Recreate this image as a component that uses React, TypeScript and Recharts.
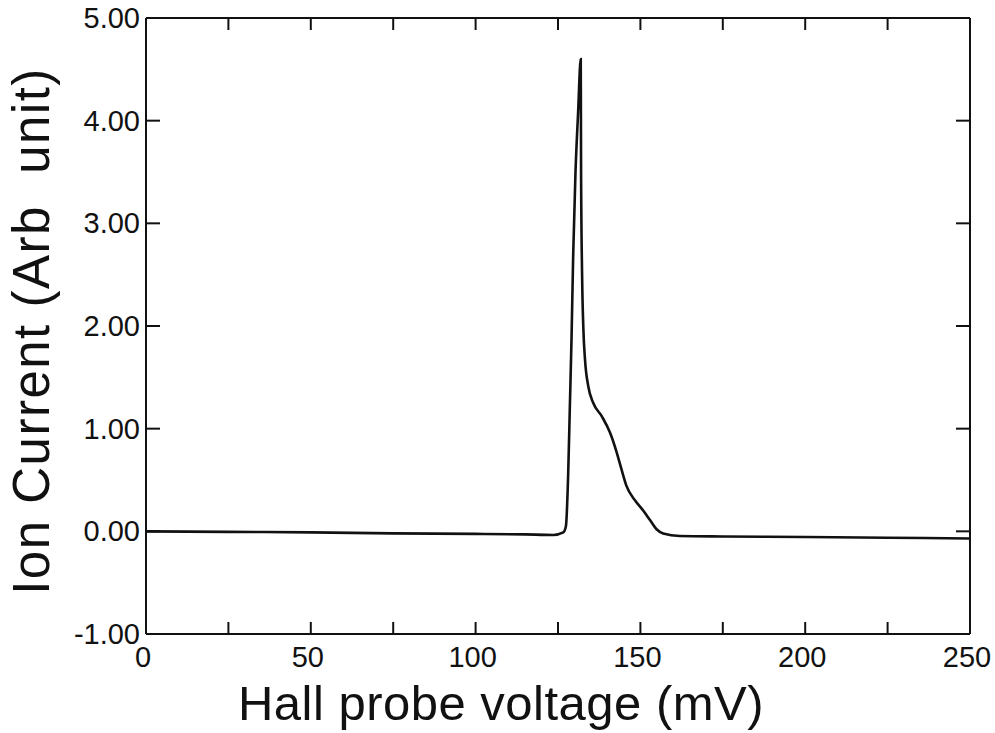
import * as React from 'react';
import {LineChart, Line, XAxis, YAxis, ReferenceLine} from 'recharts';

// Hall probe voltage (mV)
const voltage = [
    0, 25, 50, 75, 100, 115, 123.6, 126.6, 127.4, 128.1, 128.6, 129.1, 129.6, 130.3, 131.1, 131.9,
    132.0, 132.3, 132.7, 133.2, 134.2, 135.7, 138.3, 140.8, 142.8, 144.3, 145.8, 148.4, 150.9,
    152.9, 154.9, 156.9, 162, 175, 200, 225, 250
];

// Ion current (arb unit)
const current = [
    0.0, -0.005, -0.01, -0.02, -0.025, -0.03, -0.035, -0.01, 0.05, 0.57, 1.22, 1.87, 2.68, 3.49, 4.08, 4.6,
    3.49, 2.52, 1.97, 1.67, 1.41, 1.25, 1.12, 0.96, 0.77, 0.6, 0.44, 0.3, 0.2,
    0.11, 0.02, -0.02, -0.045, -0.05, -0.055, -0.062, -0.07
];

const xTicks = [0, 25, 50, 75, 100, 125, 150, 175, 200, 225, 250];
const xLabelled = [0, 50, 100, 150, 200, 250];
const yTicks = [-1, 0, 1, 2, 3, 4, 5];
const rightTicks = [0, 1, 2, 3, 4];

const data = voltage.map((v, i) => ({v, i: current[i]}));

const FONT = '"Liberation Sans", Arial, Helvetica, sans-serif';
const INK = '#111';

// plot box size, used for the mirrored ticks on top and right
const PLOT_W = 824;
const PLOT_H = 616;

const BottomTick = (props : any) => {
    const {x, y, payload} = props;
    const show = xLabelled.indexOf(payload.value) >= 0;
    const inner = payload.value > 0 && payload.value < 250;
    return (
        <g>
            <line x1={x} x2={x} y1={y} y2={y - 12} stroke={INK} strokeWidth={2}/>
            {inner && <line x1={x} x2={x} y1={y - PLOT_H} y2={y - PLOT_H + 12} stroke={INK} strokeWidth={2}/>}
            {show && (
                <text x={x - 3} y={y + 33} textAnchor="middle" fontSize={29} fontFamily={FONT} fill={INK}>
                    {payload.value}
                </text>
            )}
        </g>
    );
};

const LeftTick = (props : any) => {
    const {x, y, payload} = props;
    const right = rightTicks.indexOf(payload.value) >= 0;
    return (
        <g>
            <line x1={x} x2={x + 14} y1={y} y2={y} stroke={INK} strokeWidth={2}/>
            {right && <line x1={x + PLOT_W} x2={x + PLOT_W - 14} y1={y} y2={y} stroke={INK} strokeWidth={2}/>}
            <text x={x - 6} y={y + 10} textAnchor="end" fontSize={29} fontFamily={FONT} fill={INK}>
                {payload.value.toFixed(2)}
            </text>
        </g>
    );
};

const xTitle = () => (
    <text x={501} y={720} textAnchor="middle" fontSize={49} fontFamily={FONT} fill={INK}
        letterSpacing={0.5}>
        Hall probe voltage (mV)
    </text>
);

const yTitle = () => (
    <text x={0} y={0} transform="translate(49,331) rotate(-90)" textAnchor="middle"
        fontSize={51} fontFamily={FONT} fill={INK} letterSpacing={1.5} style={{whiteSpace: 'pre'}}>
        {'Ion Current (Arb  unit)'}
    </text>
);

export default class App extends React.Component<any, any> {
    public render() {
        const axisLine = {stroke: INK, strokeWidth: 2};
        return (
            <div style={{position: 'absolute', left: 0, top: 0}}>
                <LineChart width={995} height={733} data={data}
                    margin={{top: 18, right: 25, left: 0, bottom: 0}}>
                    <XAxis dataKey="v" type="number" domain={[0, 250]} ticks={xTicks}
                        height={99} tickSize={0} tickMargin={0} tickLine={false}
                        axisLine={axisLine} tick={<BottomTick/>} interval={0} label={xTitle}/>
                    <YAxis type="number" domain={[-1, 5]} ticks={yTicks} width={146}
                        tickSize={0} tickMargin={0} tickLine={false} axisLine={axisLine}
                        tick={<LeftTick/>} interval={0} label={yTitle}/>
                    <ReferenceLine y={5} stroke={INK} strokeWidth={2}/>
                    <ReferenceLine x={250} stroke={INK} strokeWidth={2}/>
                    <Line type="monotone" dataKey="i" stroke={INK} strokeWidth={2.6}
                        dot={false} isAnimationActive={false}/>
                </LineChart>
            </div>
        );
    }
}
